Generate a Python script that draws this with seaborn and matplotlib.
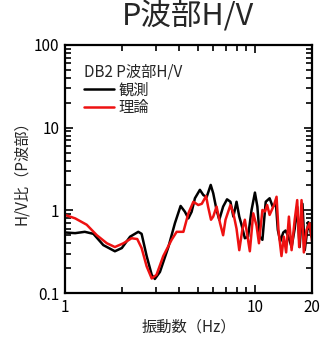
import numpy as np
import pandas as pd
import matplotlib
matplotlib.use("Agg")
import matplotlib.pyplot as plt
import matplotlib.ticker as mtick
import seaborn as sns

# observed H/V (black)
obs_freq = [1.0, 1.13, 1.27, 1.41, 1.59, 1.83, 1.99, 2.2, 2.43, 2.53, 2.69, 2.86, 2.97,
            3.16, 3.5, 3.79, 4.06, 4.28, 4.46, 4.64, 4.83, 5.13, 5.35, 5.57, 5.85, 6.03,
            6.28, 6.49, 6.8, 7.13, 7.43, 7.7, 8.0, 8.27, 8.5, 8.85, 9.2, 9.6, 10.0,
            10.3, 10.6, 10.95, 11.4, 11.95, 12.4, 12.9, 13.2, 13.6, 14.1, 14.5, 15.0,
            15.6, 16.2, 16.7, 17.2, 17.8, 18.3, 19.1, 19.9]
obs_hv = [0.54, 0.53, 0.55, 0.52, 0.38, 0.32, 0.35, 0.48, 0.55, 0.52, 0.28, 0.166, 0.148,
          0.18, 0.36, 0.7, 1.13, 0.96, 0.8, 0.96, 1.4, 1.77, 1.53, 1.45, 2.03, 1.61,
          1.01, 0.77, 1.11, 1.36, 1.27, 0.84, 1.27, 0.84, 0.67, 0.46, 0.48, 1.01, 1.64,
          1.11, 0.48, 0.44, 1.27, 1.4, 1.11, 1.2, 0.58, 0.42, 0.54, 0.57, 0.48,
          0.36, 0.6, 1.1, 0.36, 1.2, 0.33, 0.72, 0.48]

# theoretical H/V (red)
thr_freq = [1.0, 1.13, 1.3, 1.47, 1.66, 1.83, 2.03, 2.24, 2.4, 2.53, 2.69, 2.86, 3.03,
            3.29, 3.64, 3.87, 4.03, 4.2, 4.46, 4.74, 5.03, 5.25, 5.53, 5.67, 5.87, 6.03,
            6.28, 6.55, 6.8, 7.0, 7.43, 7.7, 8.0, 8.27, 8.6, 8.85, 9.4, 9.8, 10.2,
            10.5, 10.95, 11.3, 11.6, 11.95, 12.6, 13.0, 13.3, 13.8, 14.2, 14.6, 15.1,
            15.6, 16.2, 16.7, 17.1, 17.6, 18.1, 18.7, 19.4, 20.0]
thr_hv = [0.88, 0.8, 0.67, 0.5, 0.4, 0.36, 0.4, 0.46, 0.45, 0.35, 0.21, 0.15, 0.166,
          0.28, 0.44, 0.55, 0.55, 0.55, 0.92, 1.27, 1.16, 1.2, 1.49, 1.1, 0.77, 0.84,
          1.11, 0.7, 0.5, 0.77, 1.16, 0.92, 0.6, 0.33, 0.6, 0.77, 0.32, 0.92, 0.65,
          0.4, 1.01, 0.97, 1.16, 0.88, 1.16, 1.46, 0.58, 0.28, 0.48, 0.31, 0.84,
          0.33, 0.77, 1.33, 0.36, 1.33, 0.31, 0.58, 0.7, 0.42]

series_names = ["観測", "理論"]
series_colors = ["black", "#ee1111"]

df = pd.concat([
    pd.DataFrame({"freq": obs_freq, "hv": obs_hv, "kind": series_names[0]}),
    pd.DataFrame({"freq": thr_freq, "hv": thr_hv, "kind": series_names[1]}),
])

sns.set_style("ticks")
plt.rcParams["font.family"] = ["Noto Sans CJK JP", "DejaVu Sans"]

fig = plt.figure(figsize=(3.32, 3.38), dpi=100)
ax = fig.add_axes([0.196, 0.133, 0.744, 0.734])

sns.lineplot(data=df, x="freq", y="hv", hue="kind", palette=series_colors,
             linewidth=1.8, ax=ax, sort=False)

ax.set_xscale("log")
ax.set_yscale("log")
ax.set_xlim(1, 20)
ax.set_ylim(0.1, 100)

ax.xaxis.set_major_locator(mtick.FixedLocator([1, 10, 20]))
ax.xaxis.set_major_formatter(mtick.FixedFormatter(["1", "10", "20"]))
ax.xaxis.set_minor_locator(mtick.LogLocator(base=10, subs=np.arange(2, 10)))
ax.xaxis.set_minor_formatter(mtick.NullFormatter())
ax.yaxis.set_major_locator(mtick.FixedLocator([0.1, 1, 10, 100]))
ax.yaxis.set_major_formatter(mtick.FixedFormatter(["0.1", "1", "10", "100"]))
ax.yaxis.set_minor_locator(mtick.LogLocator(base=10, subs=np.arange(2, 10)))
ax.yaxis.set_minor_formatter(mtick.NullFormatter())

ax.tick_params(which="both", direction="in", top=True, right=True, labelsize=11,
               width=1.2, colors="black")
ax.tick_params(which="major", length=6, pad=4)
ax.tick_params(which="minor", length=4)
for s in ax.spines.values():
    s.set_linewidth(1.6)
    s.set_color("black")

ax.set_xlabel("振動数（Hz）", fontsize=11, labelpad=2)
ax.set_ylabel("H/V比（P波部）", fontsize=11, labelpad=3)
fig.text(0.566, 0.952, "P波部H/V", ha="center", va="center", fontsize=22)

leg = ax.legend(title="DB2 P波部H/V", loc="upper left", bbox_to_anchor=(0.05, 0.95),
                frameon=False, fontsize=11, title_fontsize=11, handlelength=2.0,
                handletextpad=0.3, labelspacing=0.05, borderaxespad=0.0)
leg._legend_box.align = "left"

fig.savefig("out.png", dpi=100)
